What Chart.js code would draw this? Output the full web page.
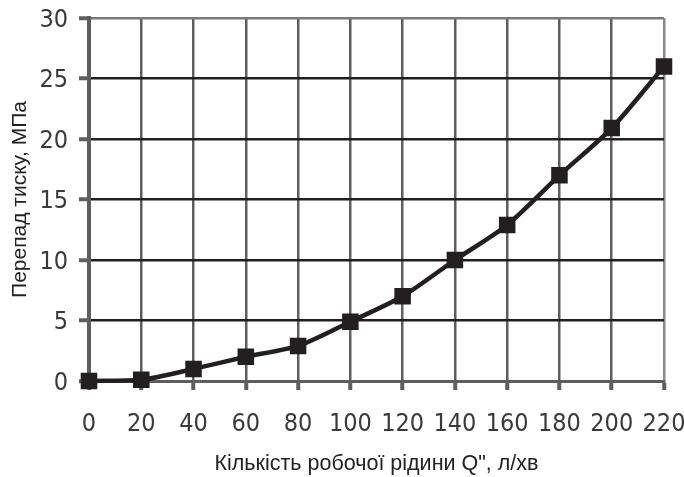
<!DOCTYPE html>
<html>
<head>
<meta charset="utf-8">
<script src="https://cdn.jsdelivr.net/npm/chart.js@4"></script>
<style>
  html, body { margin: 0; padding: 0; background: #fff; }
  #wrap { width: 684px; height: 477px; }
</style>
</head>
<body>
<div id="wrap"><canvas id="c" width="684" height="477"></canvas></div>
<script>
// Flow rate of working fluid, l/min
const flowRates = [0, 20, 40, 60, 80, 100, 120, 140, 160, 180, 200, 220];
// Pressure drop, MPa
const pressureDrop = [0, 0.1, 1, 2, 2.9, 4.9, 7, 10, 12.9, 17, 20.9, 26];
const yTicks = [0, 5, 10, 15, 20, 25, 30];

const xTitle = 'Кількість робочої рідини Q", л/хв';
const yTitle = 'Перепад тиску, МПа';

const tickFont = { family: '"Liberation Sans Narrow", "DejaVu Sans Condensed", sans-serif', size: 25 };
const titleFamily = '"Liberation Sans", Arial, sans-serif';
const gridGray = '#5e5e5e';

new Chart(document.getElementById('c'), {
  type: 'line',
  data: {
    labels: flowRates,
    datasets: [{
      data: pressureDrop.map((v, i) => ({ x: flowRates[i], y: v })),
      borderColor: '#231f20',
      backgroundColor: '#231f20',
      borderWidth: 4.5,
      pointStyle: 'rect',
      pointRadius: 8.5,
      pointHoverRadius: 8.5,
      tension: 0.25,
      clip: false
    }]
  },
  options: {
    responsive: false,
    animation: false,
    events: [],
    layout: { padding: { top: 18, right: 20, bottom: 0, left: 0 } },
    plugins: { legend: { display: false }, tooltip: { enabled: false } },
    scales: {
      x: {
        type: 'linear',
        min: 0, max: 220,
        afterBuildTicks: (s) => { s.ticks = flowRates.map(v => ({ value: v })); },
        afterFit: (s) => { s.height = 96; s.paddingLeft = 0; s.paddingRight = 0; },
        border: { display: true, color: gridGray, width: 3 },
        grid: {
          color: (ctx) => ctx.index === flowRates.length - 1 ? '#8a8a8a' : gridGray,
          lineWidth: 2.5,
          tickLength: 9,
          tickColor: gridGray,
          tickWidth: 4
        },
        ticks: { color: '#3a3a3a', font: tickFont, padding: 19, maxRotation: 0, autoSkip: false },
        title: {
          display: true, text: xTitle, color: '#222',
          font: { family: titleFamily, size: 21.5 },
          padding: { top: 0, bottom: 0 }
        }
      },
      y: {
        min: 0, max: 30,
        afterBuildTicks: (s) => { s.ticks = yTicks.map(v => ({ value: v })); },
        afterFit: (s) => { s.width = 89; s.paddingTop = 0; s.paddingBottom = 0; },
        border: { display: true, color: gridGray, width: 4 },
        grid: {
          color: (ctx) => (ctx.index === 0 || ctx.index === yTicks.length - 1) ? '#7a7a7a' : '#231f20',
          lineWidth: 2.5,
          tickLength: 10,
          tickColor: gridGray,
          tickWidth: 4
        },
        ticks: { color: '#3a3a3a', font: tickFont, padding: 11, labelOffset: 2 },
        title: {
          display: true, text: yTitle, color: '#222',
          font: { family: titleFamily, size: 21 },
          padding: { top: 8, bottom: 0 }
        }
      }
    }
  }
});
</script>
</body>
</html>
